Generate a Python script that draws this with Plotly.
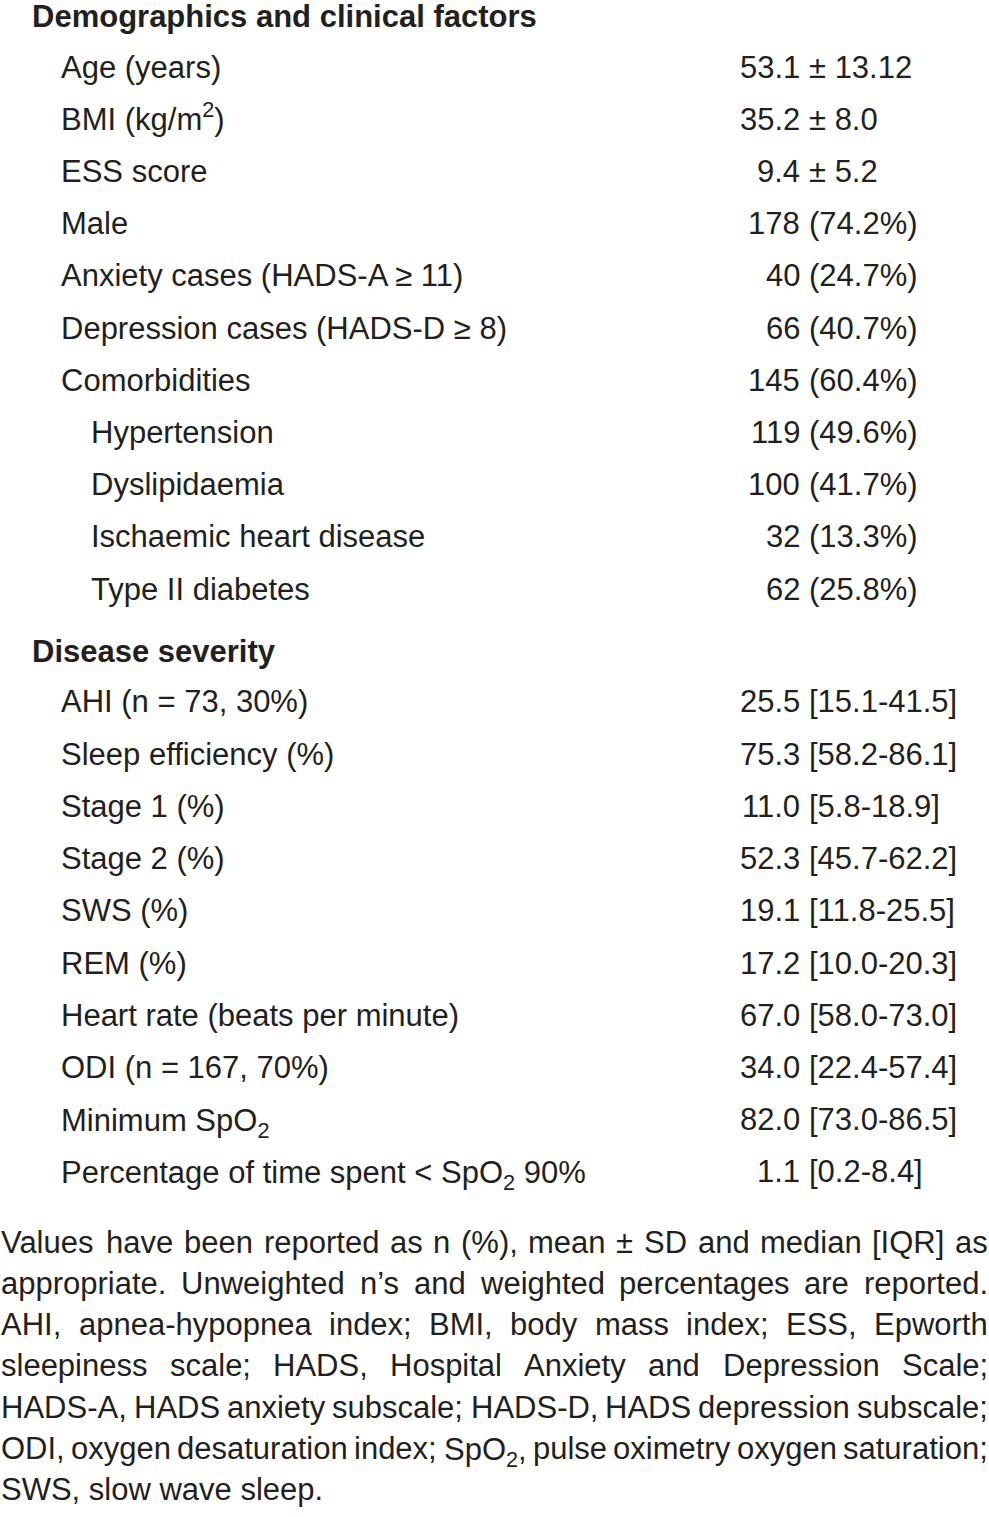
import re
import plotly.graph_objects as go

# ---------------- data ----------------
section1_title = "Demographics and clinical factors"
section1_labels = [
    "Age (years)", "BMI (kg/m<sup>2</sup>)", "ESS score", "Male",
    "Anxiety cases (HADS-A ≥ 11)", "Depression cases (HADS-D ≥ 8)",
    "Comorbidities", "Hypertension", "Dyslipidaemia",
    "Ischaemic heart disease", "Type II diabetes",
]
section1_levels = [1, 1, 1, 1, 1, 1, 1, 2, 2, 2, 2]
section1_values = [
    "53.1 ± 13.12", "35.2 ± 8.0", "9.4 ± 5.2", "178 (74.2%)", "40 (24.7%)",
    "66 (40.7%)", "145 (60.4%)", "119 (49.6%)", "100 (41.7%)", "32 (13.3%)",
    "62 (25.8%)",
]

section2_title = "Disease severity"
section2_labels = [
    "AHI (n = 73, 30%)", "Sleep efficiency (%)", "Stage 1 (%)", "Stage 2 (%)",
    "SWS (%)", "REM (%)", "Heart rate (beats per minute)", "ODI (n = 167, 70%)",
    "Minimum SpO<sub>2</sub>", "Percentage of time spent &lt; SpO<sub>2</sub> 90%",
]
section2_levels = [1] * 10
section2_values = [
    "25.5 [15.1-41.5]", "75.3 [58.2-86.1]", "11.0 [5.8-18.9]", "52.3 [45.7-62.2]",
    "19.1 [11.8-25.5]", "17.2 [10.0-20.3]", "67.0 [58.0-73.0]", "34.0 [22.4-57.4]",
    "82.0 [73.0-86.5]", "1.1 [0.2-8.4]",
]

footnote_lines = [
    "Values have been reported as n (%), mean ± SD and median [IQR] as",
    "appropriate. Unweighted n’s and weighted percentages are reported.",
    "AHI, apnea-hypopnea index; BMI, body mass index; ESS, Epworth",
    "sleepiness scale; HADS, Hospital Anxiety and Depression Scale;",
    "HADS-A, HADS anxiety subscale; HADS-D, HADS depression subscale;",
    "ODI, oxygen desaturation index; SpO<sub>2</sub>, pulse oximetry oxygen saturation;",
    "SWS, slow wave sleep.",
]
footnote_justified = [True, True, True, True, True, True, False]

# ---------------- style ----------------
W, H = 989, 1517
FS = 31
FONT = "Liberation Sans, Arial, Helvetica, sans-serif"
COLOR = "#231f20"
HEADER_X, L1_X, L2_X = 32, 61, 91
NUM_RIGHT, REST_LEFT = 800, 808.6
ROW_STEP = 52.2
SEC1_HEADER_Y, SEC1_ROW0_Y = 16, 67
SEC2_HEADER_Y, SEC2_ROW0_Y = 651, 702
NOTE_Y0, NOTE_STEP = 1242, 41.3
NOTE_LEFT, NOTE_RIGHT = 1, 988

# approximate Arial/Liberation Sans advance widths (per 1000 em)
ADV = {}
ADV.update(dict(zip("abcdefghijklmnopqrstuvwxyz",
                    [556, 556, 500, 556, 556, 278, 556, 556, 222, 222, 500, 222, 833,
                     556, 556, 556, 556, 333, 500, 278, 556, 500, 722, 500, 500, 500])))
ADV.update(dict(zip("ABCDEFGHIJKLMNOPQRSTUVWXYZ",
                    [667, 667, 722, 722, 667, 611, 778, 722, 278, 500, 667, 556, 833,
                     722, 778, 667, 778, 722, 667, 611, 722, 667, 944, 667, 667, 611])))
ADV.update({d: 556 for d in "0123456789"})
ADV.update({" ": 278, ".": 278, ",": 278, ";": 278, ":": 278, "(": 333, ")": 333,
            "[": 278, "]": 278, "%": 889, "-": 333, "±": 549, "’": 222, "<": 584,
            "≥": 549})


def text_width(s, fs=FS):
    total = 0.0
    for tok in re.split(r"(<su[bp]>.*?</su[bp]>)", s):
        factor = 1.0
        if tok.startswith("<su"):
            factor = 0.7
            tok = re.sub(r"</?su[bp]>", "", tok)
        tok = tok.replace("&lt;", "<")
        total += sum(ADV.get(c, 556) for c in tok) * factor
    return total * fs / 1000.0


def vshift(s, fs=FS):
    # compensate the bounding-box growth caused by sub/superscripts
    if "<sup>" in s:
        return 0.085 * fs
    if "<sub>" in s:
        return -0.118 * fs
    return 0.0


annotations = []


def add(text, x, y, xanchor="left", bold=False):
    annotations.append(dict(
        text=("<b>%s</b>" % text) if bold else text,
        x=x / W, y=1 - y / H, xref="paper", yref="paper",
        xanchor=xanchor, yanchor="middle", showarrow=False,
        borderpad=0, borderwidth=0, yshift=vshift(text),
        font=dict(family=FONT, size=FS, color=COLOR),
    ))


def add_section(title, title_y, labels, levels, values, row0_y):
    add(title, HEADER_X, title_y, bold=True)
    for i, (lab, lev, val) in enumerate(zip(labels, levels, values)):
        y = row0_y + i * ROW_STEP
        add(lab, L1_X if lev == 1 else L2_X, y)
        num, rest = val.split(" ", 1)
        add(num, NUM_RIGHT, y, xanchor="right")
        add(rest, REST_LEFT, y, xanchor="left")


add_section(section1_title, SEC1_HEADER_Y, section1_labels, section1_levels,
            section1_values, SEC1_ROW0_Y)
add_section(section2_title, SEC2_HEADER_Y, section2_labels, section2_levels,
            section2_values, SEC2_ROW0_Y)

# justified footnote, laid out word by word
for li, (line, just) in enumerate(zip(footnote_lines, footnote_justified)):
    y = NOTE_Y0 + li * NOTE_STEP
    if not just:
        add(line, NOTE_LEFT, y)
        continue
    words = line.split(" ")
    ws = [text_width(w) for w in words]
    gap = (NOTE_RIGHT - NOTE_LEFT - sum(ws)) / (len(words) - 1)
    x = NOTE_LEFT
    for k, (w, wd) in enumerate(zip(words, ws)):
        if k == 0:
            add(w, NOTE_LEFT, y, "left")
        elif k == len(words) - 1:
            add(w, NOTE_RIGHT, y, "right")
        else:
            add(w, x + wd / 2, y, "center")
        x += wd + gap

fig = go.Figure()
fig.update_layout(
    width=W, height=H, margin=dict(l=0, r=0, t=0, b=0),
    paper_bgcolor="white", plot_bgcolor="white",
    xaxis=dict(visible=False, range=[0, 1]),
    yaxis=dict(visible=False, range=[0, 1]),
    showlegend=False, annotations=annotations,
)
fig.write_html(
    "out.html",
    config={"displayModeBar": False},
    post_script="document.body.style.margin='0';document.body.style.overflow='hidden';",
)
